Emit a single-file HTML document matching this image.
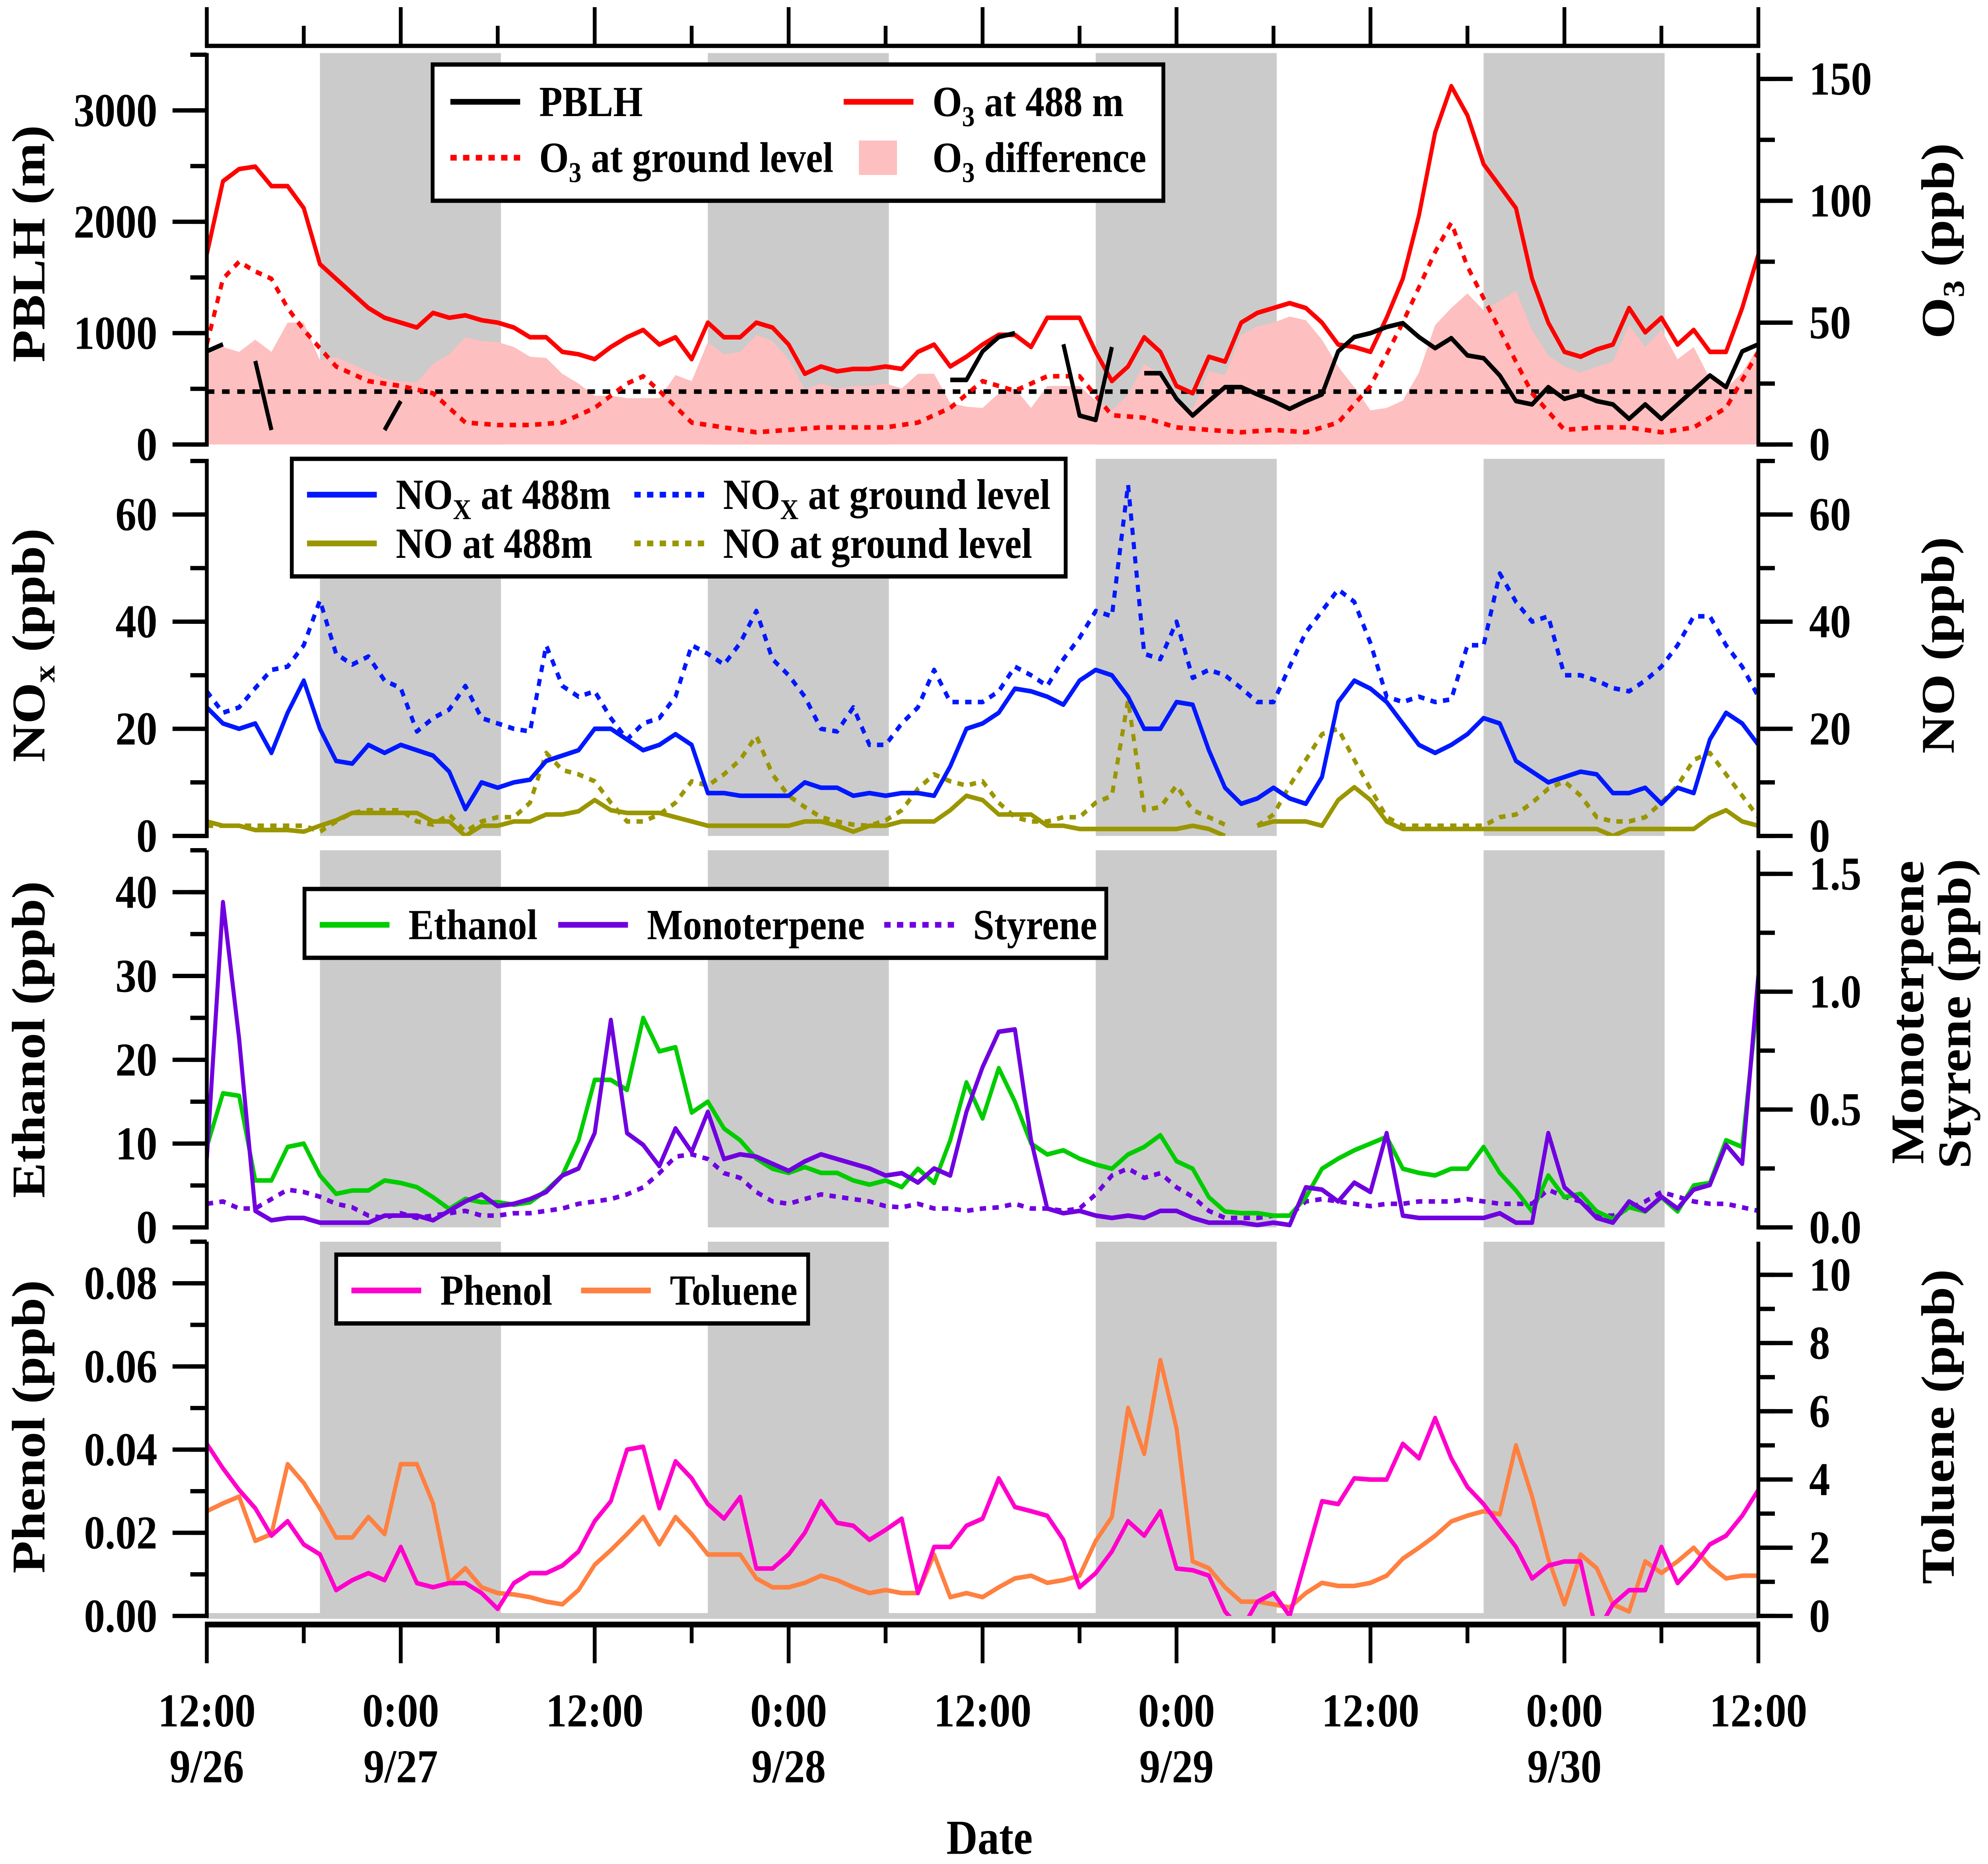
<!DOCTYPE html>
<html><head><meta charset="utf-8">
<style>
html,body{margin:0;padding:0;background:#fff;width:100vw;height:100vh;overflow:hidden;}
svg{display:block;position:absolute;left:0;top:0;width:100vw;height:100vh;}
text{font-family:"Liberation Serif",serif;font-weight:bold;fill:#000;}
</style></head>
<body>
<svg id="chart" xmlns="http://www.w3.org/2000/svg" viewBox="0 0 1567 1300" preserveAspectRatio="none">
<g id="bands"></g>
<g id="marks"></g>
<g id="axes"></g>
<g id="legends"></g>
</svg>
<script>
// ---------- DATA ----------
const nightStarts = [7, 31, 55, 79];
const nightLength = 11.2;
const dateTickHours = [0, 12, 24, 36, 48, 60, 72, 84, 96];
const dateTickTimes = ["12:00","0:00","12:00","0:00","12:00","0:00","12:00","0:00","12:00"];
const dateTickDays = ["9/26","9/27","","9/28","","9/29","","9/30",""];

const o3Upper = [78,108,113,114,106,106,97,74,68,62,56,52,50,48,54,52,53,51,50,48,44,44,38,37,35,40,44,47,41,44,35,50,44,44,50,48,41,29,32,30,31,31,32,31,38,41,32,36,41,45,45,40,52,52,52,38,26,32,44,38,24,21,36,34,50,54,56,58,56,50,41,40,38,52,68,94,128,147,135,115,106,97,68,50,38,36,39,41,56,46,52,41,47,38,38,56,78];
const o3GroundHours = [0,1,2,3,4,5,6,8,10,12,14,16,18,20,22,24,26,27,28,30,32,34,36,38,40,42,44,46,48,50,52,54,56,58,60,62,64,66,68,70,72,74,76,77,78,80,82,84,86,88,90,92,94,96];
const o3GroundVals = [41,68,75,71,68,56,47,32,26,24,21,9,8,8,9,15,25,28,22,9,7,5,6,7,7,7,9,15,26,22,28,28,12,11,7,6,5,6,5,9,24,50,79,91,73,47,21,6,7,7,5,7,15,38];
const pblhHours = [0,1,1.5,3,4,4.5,11,12,12.5,46,47,48,49,50,51,53,54,55,56,57,58,59,60,61,62,63,64,65,66,67,68,69,70,71,72,73,74,75,76,77,78,79,80,81,82,83,84,85,86,87,88,89,90,91,92,93,94,95,96];
const pblhVals = [836,900,null,750,130,null,130,390,null,580,580,836,965,1000,null,900,260,220,875,null,640,640,410,260,390,515,515,450,390,320,390,450,836,965,1000,1055,1090,965,865,955,800,775,620,390,360,515,410,450,390,360,230,360,230,360,490,620,515,836,900];
const pblhThreshold = 475;

const noxUpper = [24,21,20,21,15.5,23,29,20,14,13.5,17,15.5,17,16,15,12,5,10,9,10,10.5,14,15,16,20,20,18,16,17,19,17,8,8,7.5,7.5,7.5,7.5,10,9,9,7.5,8,7.5,8,8,7.5,13,20,21,23,27.5,27,26,24.5,29,31,30,26,20,20,25,24.5,16,9,6,7,9,7,6,11,25,29,27.5,25,21,17,15.5,17,19,22,21,14,12,10,11,12,11.5,8,8,9,6,9,8,18,23,21,17];
const noxGround = [27,23,24,27.6,31,31.6,35.6,44,34,32,33.5,29,27.6,19.5,22,23.6,28,22,21,20,19.5,35.6,28,26,27,22,18,21,22,26,35.6,34,32,36,42,33,30,26,20,19.5,24,17,17,21,24,31,25,25,25,27,31.6,30,28,33,37,42,41,65.6,34,33,40,29.5,31,30,27.6,25,25,31.6,38,42,46,43.7,36,26,25,26,25,25.5,35.6,35.6,49,43.7,40,41,30,30,29,27.6,27,29,31.6,35.6,41,41,35.6,31.6,26];
const noUpper = [2.7,1.9,1.9,1.1,1.1,1.1,0.8,1.9,2.9,4.3,4.3,4.3,4.3,4.3,2.7,2.7,0,1.9,1.9,2.7,2.7,4,4,4.6,6.7,4.8,4.3,4.3,4.3,3.5,2.7,1.9,1.9,1.9,1.9,1.9,1.9,2.7,2.7,1.9,0.8,1.9,1.9,2.7,2.7,2.7,4.8,7.5,6.7,4,4,4,1.9,1.9,1.3,1.3,1.3,1.3,1.3,1.3,1.3,1.9,1.3,0,null,1.9,2.7,2.7,2.7,1.9,6.7,9.1,6.7,2.7,1.3,1.3,1.3,1.3,1.3,1.3,1.3,1.3,1.3,1.3,1.3,1.3,1.3,0,1.3,1.3,1.3,1.3,1.3,3.5,4.8,2.7,1.9];
const noGround = [1.9,1.9,1.9,1.9,1.9,1.9,1.9,0.8,2.7,4.3,4.8,4.8,4.8,2.7,2.1,4,0.8,2.7,3.5,3.5,6.2,15.5,12.3,11.5,10.2,6.2,2.7,2.7,4,6.2,10.2,9.4,11.5,14.2,18.7,11.5,7.5,5.4,3.5,2.7,2.1,1.9,2.9,4.8,8.8,11.5,10.2,9.4,10.2,6.2,3.5,2.7,2.7,3.5,3.5,6.2,7.5,25.4,4.8,5.4,9.4,4.8,3.5,2.1,null,1.9,4,9.4,14.2,19,20,14.2,8.8,3.5,1.9,1.9,1.9,1.9,1.9,1.9,3.5,4,6.2,8.8,10.2,7.5,3.5,2.7,2.7,3.5,6.2,9.4,14.2,15.5,11.5,7.5,3.5];

const ethanol = [9.6,16,15.7,5.6,5.6,9.6,10,6.2,4,4.4,4.4,5.6,5.3,4.8,3.6,2.2,3.4,3,3,2.7,3,4.4,6.2,10.4,17.6,17.6,16.4,25,21,21.5,13.7,15,11.8,10.4,8.2,7,6.5,7.2,6.5,6.5,5.6,5.1,5.6,4.8,7,5.3,10.4,17.3,13,19,15,10,8.7,9.2,8.2,7.5,7,8.7,9.6,11,7.9,7,3.6,1.9,1.7,1.7,1.4,1.4,3.6,7,8.2,9.2,10,10.8,7,6.5,6.2,7,7,9.6,6.5,4.4,1.9,6.2,3.6,4,1.9,1,2.4,1.9,3.6,1.9,5,5.3,10.4,9.6,28];
const monoterpene = [0.29,1.38,0.8,0.07,0.03,0.04,0.04,0.02,0.02,0.02,0.02,0.05,0.05,0.05,0.03,0.07,0.11,0.14,0.09,0.1,0.12,0.15,0.22,0.25,0.4,0.88,0.4,0.35,0.26,0.42,0.32,0.49,0.29,0.31,0.3,0.27,0.24,0.28,0.31,0.29,0.27,0.25,0.22,0.23,0.19,0.25,0.22,0.49,0.68,0.83,0.84,0.37,0.08,0.06,0.07,0.05,0.04,0.05,0.04,0.07,0.07,0.04,0.02,0.02,0.02,0.01,0.02,0.01,0.17,0.16,0.11,0.19,0.15,0.4,0.05,0.04,0.04,0.04,0.04,0.04,0.06,0.02,0.02,0.4,0.17,0.11,0.04,0.02,0.11,0.07,0.13,0.08,0.16,0.18,0.35,0.27,1.07];
const styrene = [0.1,0.11,0.08,0.08,0.12,0.16,0.15,0.13,0.1,0.085,0.05,0.04,0.06,0.04,0.05,0.06,0.07,0.05,0.05,0.06,0.06,0.07,0.08,0.1,0.11,0.12,0.14,0.17,0.23,0.3,0.31,0.29,0.23,0.21,0.15,0.11,0.1,0.12,0.14,0.13,0.12,0.11,0.09,0.085,0.1,0.08,0.08,0.07,0.08,0.085,0.1,0.08,0.08,0.07,0.08,0.14,0.22,0.25,0.21,0.23,0.17,0.13,0.07,0.04,0.04,0.04,0.05,0.05,0.11,0.12,0.11,0.1,0.09,0.1,0.1,0.11,0.11,0.11,0.12,0.11,0.1,0.1,0.1,0.16,0.13,0.11,0.05,0.05,0.08,0.11,0.15,0.13,0.11,0.1,0.1,0.085,0.07];

const phenol = [0.0414,0.0355,0.0303,0.0259,0.0193,0.0228,0.0172,0.0148,0.0062,0.0086,0.0103,0.0086,0.0166,0.0079,0.0069,0.0079,0.0079,0.0055,0.0017,0.0079,0.0103,0.0103,0.0121,0.0155,0.0228,0.0276,0.04,0.0407,0.0259,0.0372,0.0331,0.0269,0.0234,0.0286,0.0114,0.0114,0.0148,0.02,0.0276,0.0224,0.0217,0.0183,0.0207,0.0234,0.0055,0.0166,0.0166,0.0217,0.0234,0.0331,0.0262,0.0252,0.0241,0.0183,0.0069,0.0103,0.0155,0.0228,0.0193,0.0252,0.0114,0.011,0.0097,0.0011,-0.0034,0.0034,0.0055,0,0.0138,0.0276,0.0269,0.0331,0.0328,0.0328,0.0414,0.0379,0.0476,0.0379,0.031,0.0269,0.0217,0.0166,0.009,0.0121,0.0131,0.0131,-0.0041,0.0028,0.0062,0.0062,0.0166,0.0079,0.0121,0.0172,0.0193,0.0241,0.0303];
const toluene = [3.07,3.3,3.5,2.2,2.4,4.45,3.9,3.15,2.3,2.3,2.9,2.4,4.45,4.45,3.3,0.97,1.4,0.84,0.67,0.63,0.55,0.42,0.34,0.76,1.5,1.93,2.4,2.9,2.1,2.9,2.4,1.8,1.8,1.8,1.1,0.84,0.84,0.97,1.18,1.05,0.84,0.67,0.76,0.67,0.67,1.8,0.55,0.67,0.55,0.84,1.1,1.18,0.97,1.05,1.18,2.2,2.9,6.1,4.75,7.5,5.5,1.6,1.4,0.84,0.42,0.42,0.34,0.25,0.67,0.97,0.88,0.88,0.97,1.18,1.68,2.0,2.35,2.77,2.94,3.07,2.98,5.0,3.5,1.68,0.34,1.8,1.4,0.34,0.13,1.6,1.26,1.6,2.0,1.47,1.1,1.18,1.18];

const leftTicks1 = [0,1000,2000,3000]; const rightTicks1 = [0,50,100,150];
const leftTicks2 = [0,20,40,60]; const rightTicks2 = [0,20,40,60];
const leftTicks3 = [0,10,20,30,40]; const rightTicks3 = [0,0.5,1.0,1.5];
const rightTickLabels3 = ["0.0","0.5","1.0","1.5"];
const leftTicks4 = [0,0.02,0.04,0.06,0.08]; const leftTickLabels4 = ["0.00","0.02","0.04","0.06","0.08"];
const rightTicks4 = [0,2,4,6,8,10];

// ---------- GEOMETRY ----------
const NS = "http://www.w3.org/2000/svg";
const X0 = 163, X1 = 1386, HMAX = 96;
const xs = h => X0 + h * (X1 - X0) / HMAX;
const panels = [
  {top: 37, bottom: 310},
  {top: 320, bottom: 583},
  {top: 593, bottom: 856},
  {top: 866, bottom: 1127}
];
const scale = (p, max) => v => panels[p].bottom - v * (panels[p].bottom - panels[p].top) / max;
const y1L = scale(0, 3515), y1R = scale(0, 160.6);
const y2L = scale(1, 70.4), y2R = scale(1, 70.4);
const y3L = scale(2, 45), y3R = scale(2, 1.6);
const y4L = scale(3, 0.09), y4R = scale(3, 10.97);

function mk(tag, attrs, parent) {
  const e = document.createElementNS(NS, tag);
  for (const k in attrs) e.setAttribute(k, attrs[k]);
  parent.appendChild(e);
  return e;
}
const svg = document.getElementById('chart');
const gB = document.getElementById('bands'), gM = document.getElementById('marks');
const gA = document.getElementById('axes'), gL = document.getElementById('legends');
const defs = mk('defs', {}, svg);
panels.forEach((p, i) => {
  const cp = mk('clipPath', {id: 'clip' + i}, defs);
  mk('rect', {x: X0, y: p.top - 2, width: X1 - X0, height: p.bottom - p.top + 2}, cp);
});

panels.forEach((p, pi) => {
  nightStarts.forEach((s, i) => {
    const r = mk('rect', {x: xs(s), y: p.top, width: xs(s + nightLength) - xs(s), height: p.bottom - p.top, fill: '#cbcbcb'}, gB);
    
    
  });
});

function seriesPath(hours, vals, yf) {
  let d = '', pen = false;
  for (let i = 0; i < vals.length; i++) {
    const v = vals[i];
    if (v === null || v === undefined) { pen = false; continue; }
    d += (pen ? 'L' : 'M') + xs(hours[i]).toFixed(2) + ' ' + yf(v).toFixed(2);
    pen = true;
  }
  return d;
}
const hourly = n => Array.from({length: n}, (_, i) => i);
function drawLine(name, hours, vals, yf, color, panel, dash, w) {
  const p = mk('path', {d: seriesPath(hours, vals, yf), fill: 'none', stroke: color, 'stroke-width': w || 3.2,
    'stroke-linejoin': 'round', 'clip-path': 'url(#clip' + panel + ')'}, gM);
  if (dash) p.setAttribute('stroke-dasharray', dash);
  
  
}
function interp(hs, vs, h) {
  for (let i = 0; i < hs.length - 1; i++) {
    if (h >= hs[i] && h <= hs[i + 1]) return vs[i] + (vs[i + 1] - vs[i]) * (h - hs[i]) / (hs[i + 1] - hs[i]);
  }
  return vs[vs.length - 1];
}

(function () {
  const hs = hourly(o3Upper.length);
  let d = 'M' + xs(0) + ' ' + y1R(0);
  hs.forEach(h => { const diff = Math.max(0, o3Upper[h] - interp(o3GroundHours, o3GroundVals, h)); d += 'L' + xs(h).toFixed(2) + ' ' + y1R(diff).toFixed(2); });
  d += 'L' + xs(hs[hs.length - 1]) + ' ' + y1R(0) + 'Z';
  const a = mk('path', {d: d, fill: '#fdbfbf', stroke: 'none', 'clip-path': 'url(#clip0)'}, gM);
  
  
})();
const th = mk('line', {x1: X0, x2: X1, y1: y1L(pblhThreshold), y2: y1L(pblhThreshold), stroke: '#000', 'stroke-width': 3.2, 'stroke-dasharray': '6 6'}, gM);


drawLine('o3-ground-line', o3GroundHours, o3GroundVals, y1R, '#ff0000', 0, '5 5');
drawLine('o3-488m-line', hourly(o3Upper.length), o3Upper, y1R, '#ff0000', 0);
drawLine('pblh-line', pblhHours, pblhVals, y1L, '#000000', 0);

drawLine('no-ground-line', hourly(noGround.length), noGround, y2R, '#9a9600', 1, '5 5');
drawLine('no-488m-line', hourly(noUpper.length), noUpper, y2R, '#9a9600', 1);
drawLine('nox-ground-line', hourly(noxGround.length), noxGround, y2L, '#0018ff', 1, '5 5');
drawLine('nox-488m-line', hourly(noxUpper.length), noxUpper, y2L, '#0018ff', 1);

drawLine('styrene-line', hourly(styrene.length), styrene, y3R, '#7000e0', 2, '5 5');
drawLine('ethanol-line', hourly(ethanol.length), ethanol, y3L, '#00cc00', 2);
drawLine('monoterpene-line', hourly(monoterpene.length), monoterpene, y3R, '#7000e0', 2);

const zl = mk('line', {x1: X0, x2: X1, y1: 1127, y2: 1127, stroke: '#cbcbcb', 'stroke-width': 4}, gB);


drawLine('toluene-line', hourly(toluene.length), toluene, y4R, '#ff8040', 3);
drawLine('phenol-line', hourly(phenol.length), phenol, y4L, '#ff00cc', 3);

// ---------- AXES ----------
function txt(s, x, y, size, anchor, name, parent) {
  const t = mk('text', {x: x, y: y, 'font-size': size, 'text-anchor': anchor || 'middle'}, parent || gA);
  t.textContent = s;
  
  
  return t;
}
function ln(x1, y1, x2, y2, name, w) {
  const l = mk('line', {x1: x1, y1: y1, x2: x2, y2: y2, stroke: '#000', 'stroke-width': w || 3}, gA);
  
  
}
function vAxis(pi, side, ticks, labels, minorStep, maxVal, yf, name) {
  const p = panels[pi];
  const x = side === 'left' ? X0 : X1;
  const dir = side === 'left' ? -1 : 1;
  ln(x, p.top, x, p.bottom + 1.5, name + '-line');
  for (let v = 0; v <= maxVal + 1e-9; v += minorStep) {
    const y = yf(v);
    if (y < p.top - 0.5) break;
    ln(x, y, x + dir * 13, y, name + '-minor-tick');
  }
  ticks.forEach((v, i) => {
    const y = yf(v);
    ln(x, y, x + dir * 27, y, name + '-major-tick');
    txt(labels ? labels[i] : String(v), side === 'left' ? 124 : 1426, y + 11, 33, side === 'left' ? 'end' : 'start', name + '-tick-label');
  });
}
vAxis(0, 'left', leftTicks1, null, 500, 3515, y1L, 'pblh-axis');
vAxis(0, 'right', rightTicks1, null, 25, 160, y1R, 'o3-axis');
vAxis(1, 'left', leftTicks2, null, 10, 70.4, y2L, 'nox-axis');
vAxis(1, 'right', rightTicks2, null, 10, 70.4, y2R, 'no-axis');
vAxis(2, 'left', leftTicks3, null, 5, 45, y3L, 'ethanol-axis');
vAxis(2, 'right', rightTicks3, rightTickLabels3, 0.25, 1.6, y3R, 'monoterpene-axis');
vAxis(3, 'left', leftTicks4, leftTickLabels4, 0.01, 0.09, y4L, 'phenol-axis');
vAxis(3, 'right', rightTicks4, null, 1, 10.97, y4R, 'toluene-axis');

ln(X0 - 1.5, 32, X1 + 1.5, 32, 'top-axis-line');
for (let h = 0; h <= HMAX; h += 6) ln(xs(h), 32, xs(h), h % 12 === 0 ? 5 : 18, 'top-axis-tick');
ln(X0 - 1.5, 1133, X1 + 1.5, 1133, 'bottom-axis-line', 4);
for (let h = 0; h <= HMAX; h += 6) ln(xs(h), 1133, xs(h), h % 12 === 0 ? 1160 : 1146, 'bottom-axis-tick');
dateTickHours.forEach((h, i) => {
  txt(dateTickTimes[i], xs(h), 1204, 33, 'middle', 'x-tick-time-label');
  if (dateTickDays[i]) txt(dateTickDays[i], xs(h), 1243, 33, 'middle', 'x-tick-date-label');
});
txt('Date', 780, 1293, 34, 'middle', 'x-axis-title');

function rotTitle(parts, cx, cy, name) {
  const t = mk('text', {x: 0, y: 0, 'font-size': 37, 'text-anchor': 'middle', transform: `translate(${cx},${cy}) rotate(-90)`}, gA);
  
  
  parts.forEach(pt => {
    const s = mk('tspan', pt.sub ? {'font-size': 24, dy: 8} : (pt.after ? {dy: -8} : {}), t);
    s.textContent = pt.t;
  });
}
rotTitle([{t: 'PBLH (m)'}], 35, 170, 'pblh-axis-title');
rotTitle([{t: 'NO'}, {t: 'x', sub: true}, {t: ' (ppb)', after: true}], 35, 450, 'nox-axis-title');
rotTitle([{t: 'Ethanol (ppb)'}], 35, 725, 'ethanol-axis-title');
rotTitle([{t: 'Phenol (ppb)'}], 35, 995, 'phenol-axis-title');
rotTitle([{t: 'O'}, {t: '3', sub: true}, {t: ' (ppb)', after: true}], 1540, 168, 'o3-axis-title');
rotTitle([{t: 'NO (ppb)'}], 1540, 450, 'no-axis-title');
rotTitle([{t: 'Monoterpene'}], 1516, 706, 'monoterpene-axis-title');
rotTitle([{t: 'Styrene (ppb)'}], 1553, 707, 'styrene-axis-title');
rotTitle([{t: 'Toluene (ppb)'}], 1540, 995, 'toluene-axis-title');

// ---------- LEGENDS ----------
function legendBox(x, y, w, h, name) {
  const r = mk('rect', {x: x, y: y, width: w, height: h, fill: '#fff', stroke: '#000', 'stroke-width': 3}, gL);
  
  
}
function legendEntry(x, y, color, dash, parts, name, swatch) {
  if (swatch) {
    const r = mk('rect', {x: x + 12, y: y - 12, width: 30, height: 24, fill: color}, gL);
    
    
  } else {
    const l = mk('line', {x1: x, y1: y, x2: x + 55, y2: y, stroke: color, 'stroke-width': 4}, gL);
    if (dash) l.setAttribute('stroke-dasharray', dash);
    
    
  }
  const t = mk('text', {x: x + 70, y: y + 10, 'font-size': 30}, gL);
  
  
  parts.forEach(pt => {
    const s = mk('tspan', pt.sub ? {'font-size': 20, dy: 7} : (pt.after ? {dy: -7} : {}), t);
    s.textContent = pt.t;
  });
}
legendBox(341, 45, 576, 95, 'legend-panel1');
legendEntry(355, 71, '#000', null, [{t: 'PBLH'}], 'legend-pblh');
legendEntry(665, 71, '#ff0000', null, [{t: 'O'}, {t: '3', sub: true}, {t: ' at 488 m', after: true}], 'legend-o3-488m');
legendEntry(355, 110, '#ff0000', '5 5', [{t: 'O'}, {t: '3', sub: true}, {t: ' at ground level', after: true}], 'legend-o3-ground');
legendEntry(665, 110, '#fdbfbf', null, [{t: 'O'}, {t: '3', sub: true}, {t: ' difference', after: true}], 'legend-o3-difference', true);

legendBox(230, 320, 610, 82, 'legend-panel2');
legendEntry(242, 345, '#0018ff', null, [{t: 'NO'}, {t: 'X', sub: true}, {t: ' at 488m', after: true}], 'legend-nox-488m');
legendEntry(500, 345, '#0018ff', '5 5', [{t: 'NO'}, {t: 'X', sub: true}, {t: ' at ground level', after: true}], 'legend-nox-ground');
legendEntry(242, 379, '#9a9600', null, [{t: 'NO at 488m'}], 'legend-no-488m');
legendEntry(500, 379, '#9a9600', '5 5', [{t: 'NO at ground level'}], 'legend-no-ground');

legendBox(240, 620, 632, 48, 'legend-panel3');
legendEntry(252, 645, '#00cc00', null, [{t: 'Ethanol'}], 'legend-ethanol');
legendEntry(440, 645, '#7000e0', null, [{t: 'Monoterpene'}], 'legend-monoterpene');
legendEntry(697, 645, '#7000e0', '5 5', [{t: 'Styrene'}], 'legend-styrene');

legendBox(265, 875, 372, 48, 'legend-panel4');
legendEntry(277, 900, '#ff00cc', null, [{t: 'Phenol'}], 'legend-phenol');
legendEntry(458, 900, '#ff8040', null, [{t: 'Toluene'}], 'legend-toluene');
</script>
</body></html>
